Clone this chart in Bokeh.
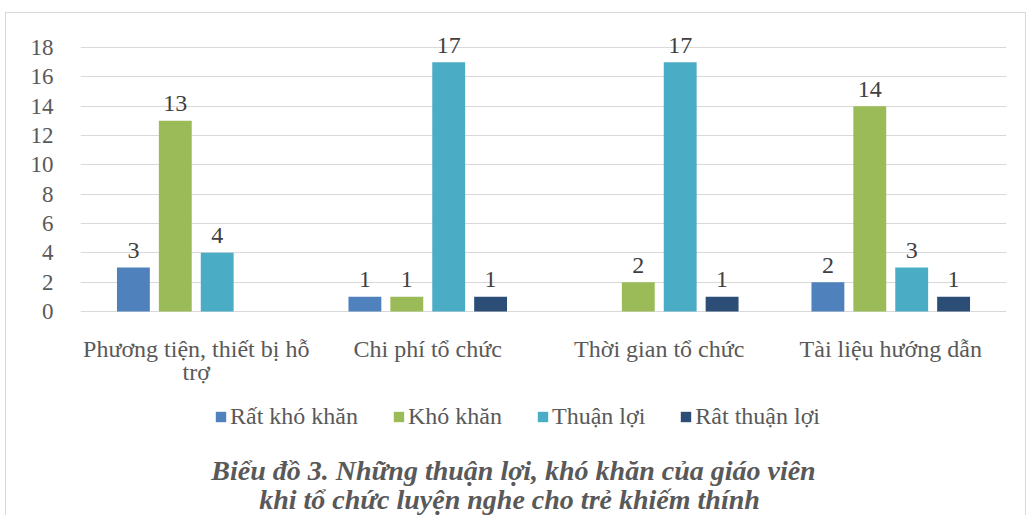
from bokeh.plotting import figure
from bokeh.models import (ColumnDataSource, FactorRange, Range1d, FixedTicker,
                          Legend, LegendItem, Label)
from bokeh.transform import dodge
from bokeh.embed import file_html
from bokeh.resources import INLINE
from bokeh.core.properties import value

categories = ["Phương tiện, thiết bị hỗ trợ", "Chi phí tổ chức",
              "Thời gian tổ chức", "Tài liệu hướng dẫn"]
label_line1 = ["Phương tiện, thiết bị hỗ", "Chi phí tổ chức",
               "Thời gian tổ chức", "Tài liệu hướng dẫn"]
label_line2 = ["trợ", "", "", ""]
series_names = ["Rất khó khăn", "Khó khăn", "Thuận lợi", "Rât thuận lợi"]
rat_kho_khan = [3, 1, None, 2]
kho_khan = [13, 1, 2, 14]
thuan_loi = [4, 17, 17, 3]
rat_thuan_loi = [None, 1, 1, 1]
y_ticks = [0, 2, 4, 6, 8, 10, 12, 14, 16, 18]
caption_lines = ["Biểu đồ 3. Những thuận lợi, khó khăn của giáo viên",
                 "khi tổ chức luyện nghe cho trẻ khiếm thính"]

colors = ["#4F81BD", "#9BBB59", "#4BACC6", "#2C4D75"]
series = [rat_kho_khan, kho_khan, thuan_loi, rat_thuan_loi]
FONT = "Liberation Serif"
PX = 14.667  # pixels per y unit
ZERO = 311   # pixel row of y = 0


def ypx(py):
    return (ZERO - py) / PX


p = figure(width=1031, height=515, x_range=FactorRange(*categories),
           y_range=Range1d(ypx(515), 19.5), output_backend="svg",
           toolbar_location=None, x_axis_location=None,
           min_border_left=80, min_border_right=25,
           min_border_top=25, min_border_bottom=0)
p.outline_line_color = None
p.background_fill_color = "white"
p.border_fill_color = None
line = "linear-gradient(#d9d9d9, #d9d9d9)"
p.styles = {
    "background-color": "white",
    "background-image": f"{line}, {line}, {line}",
    "background-position": "5px 12px, 5px 12px, 1025px 12px",
    "background-size": "1px 100%, 1021px 1px, 1px 100%",
    "background-repeat": "no-repeat",
}

offsets = [-0.2715, -0.0905, 0.0905, 0.2715]
items = []
for name, vals, col, off in zip(series_names, series, colors, offsets):
    xs = [c for c, v in zip(categories, vals) if v is not None]
    ys = [v for v in vals if v is not None]
    src = ColumnDataSource(dict(x=xs, y=ys, t=[str(v) for v in ys]))
    r = p.vbar(x=dodge("x", off, range=p.x_range), top="y", width=0.142,
               source=src, fill_color=col, line_color=None)
    p.text(x=dodge("x", off, range=p.x_range), y="y", text="t", source=src,
           text_align="center", text_baseline="alphabetic", y_offset=-17,
           text_font=value(FONT), text_font_size="24px", text_color="#404040")
    items.append(LegendItem(label=name, renderers=[r]))

p.yaxis.ticker = FixedTicker(ticks=y_ticks)
p.ygrid.ticker = FixedTicker(ticks=y_ticks)
p.ygrid.grid_line_color = "#d9d9d9"
p.ygrid.grid_line_width = 1
p.xgrid.grid_line_color = None
p.yaxis.axis_line_color = None
p.yaxis.major_tick_line_color = None
p.yaxis.minor_tick_line_color = None
p.yaxis.major_label_standoff = 21
p.yaxis.major_label_text_font = FONT
p.yaxis.major_label_text_font_size = "23px"
p.yaxis.major_label_text_color = "#595959"

# category labels (two lines) below the zero line
cat_src1 = ColumnDataSource(dict(x=categories, t=label_line1,
                                 y=[ypx(348)] * len(categories)))
p.text(x="x", y="y", text="t", source=cat_src1, text_align="center",
       text_baseline="alphabetic", text_font=value(FONT),
       text_font_size="24px", text_color="#595959")
c2 = [(c, t) for c, t in zip(categories, label_line2) if t]
cat_src2 = ColumnDataSource(dict(x=[c for c, _ in c2], t=[t for _, t in c2],
                                 y=[ypx(371)] * len(c2)))
p.text(x="x", y="y", text="t", source=cat_src2, text_align="center",
       text_baseline="alphabetic", text_font=value(FONT),
       text_font_size="24px", text_color="#595959")

legend = Legend(items=items, orientation="horizontal", location=(134, 85),
                glyph_width=13, glyph_height=13, label_standoff=3, spacing=34,
                label_text_font=FONT, label_text_font_size="24px",
                label_text_color="#595959", border_line_color=None,
                background_fill_alpha=0, margin=0, padding=0)
p.add_layout(legend, "center")

for txt, base, cx in zip(caption_lines, [470, 499], [513, 509]):
    p.add_layout(Label(x=(cx - 80) / 231.5, y=ypx(base), text=txt,
                       text_align="center", text_baseline="alphabetic",
                       text_font=FONT, text_font_size="28px",
                       text_font_style="bold italic", text_color="#595959"))

open("out.html", "w").write(file_html(p, INLINE))
